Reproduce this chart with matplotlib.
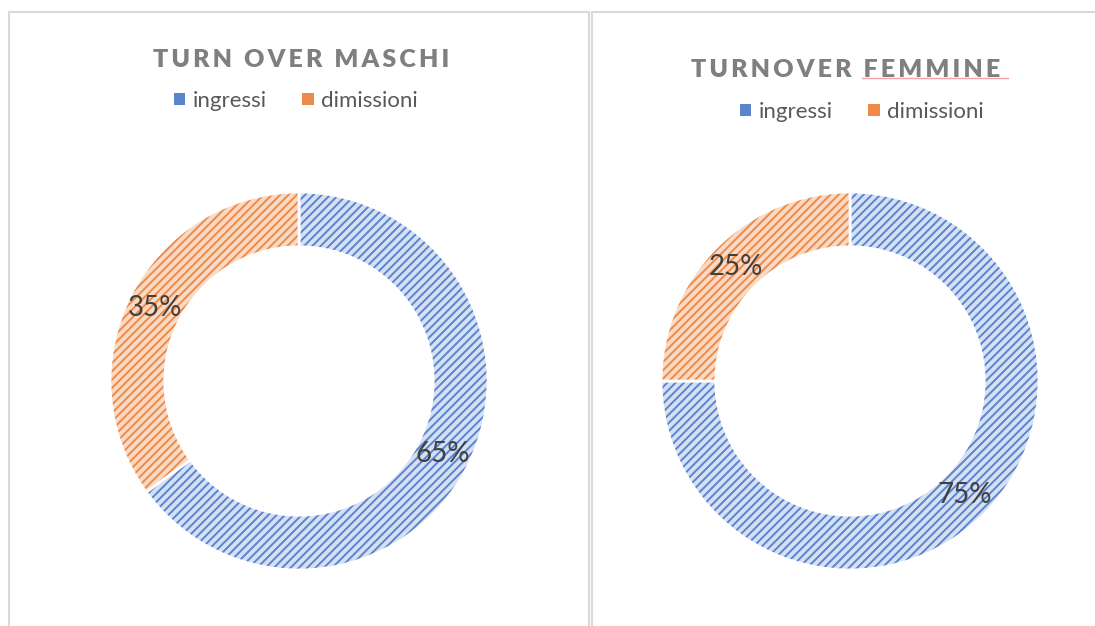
import matplotlib.pyplot as plt
from matplotlib.colors import to_rgba
from matplotlib.patches import Patch
from matplotlib.lines import Line2D

plt.rcParams['font.family'] = ['Lato', 'DejaVu Sans']
plt.rcParams['hatch.linewidth'] = 1.4

labels = ['ingressi', 'dimissioni']
maschi = [65, 35]
femmine = [75, 25]
titles = ['TURN OVER MASCHI', 'TURNOVER FEMMINE']

face = ['#d5e0f4', '#fadac4']
hatch_col = ['#5a84cc', '#ee8a48']
solid = ['#5a84cc', '#ee8a48']

W, H = 1095, 626
fig = plt.figure(figsize=(W / 100, H / 100), dpi=100)


def fx(px):
    return px / W


def fy(py):
    return 1 - py / H


def spaced(s):
    return '\u2009'.join(s)


# panel borders
bc = '#d9d9d9'
for xs, ys in [([9, 9, 589, 589], [H, 12, 12, H]), ([592, 592, W], [H, 12, 12])]:
    fig.add_artist(Line2D([fx(x) for x in xs], [fy(y) for y in ys], color=bc, lw=1.5))

panels = [(maschi, 299, 301, 60, 101, 296), (femmine, 850, 846, 70, 112, 862)]
for i, (vals, cx, tx, ty, ly, lx) in enumerate(panels):
    r = 189
    ax = fig.add_axes([fx(cx - r), fy(381 + r), 2 * r / W, 2 * r / H])
    wedges, _, autotexts = ax.pie(vals, startangle=90, counterclock=False, radius=1,
                                  autopct='%d%%', pctdistance=0.855,
                                  wedgeprops=dict(width=0.29, edgecolor='white', linewidth=2))
    for w, fc, hc in zip(wedges, face, hatch_col):
        w.set_facecolor(fc)
        w.set_hatch('////')
        w._hatch_color = to_rgba(hc)
    for t in autotexts:
        t.set_fontsize(20)
        t.set_color('#404040')
    ax.set_xlim(-1, 1)
    ax.set_ylim(-1, 1)
    ax.set_aspect('equal')
    ax.axis('off')

    fig.text(fx(tx), fy(ty), spaced(titles[i]), ha='center', va='center',
             fontsize=18, fontweight='heavy', color='#7f7f7f')

    handles = [Patch(facecolor=solid[k], edgecolor='none', lw=0) for k in range(2)]
    fig.legend(handles, labels, loc='center', bbox_to_anchor=(fx(lx), fy(ly)),
               ncol=2, frameon=False, fontsize=16, handlelength=0.5, handleheight=0.5,
               handletextpad=0.35, columnspacing=1.6, labelcolor='#595959')

# spellcheck underline under FEMMINE
fig.add_artist(Line2D([fx(862), fx(1008)], [fy(78), fy(78)], color='#f4a3a3', lw=1))

fig.savefig('out.png', dpi=100)
